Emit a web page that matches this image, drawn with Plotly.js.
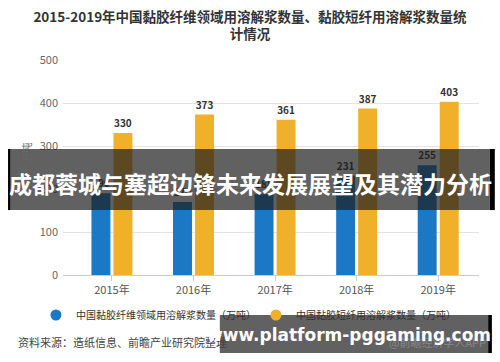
<!DOCTYPE html>
<html>
<head>
<meta charset="utf-8">
<script src="https://cdn.plot.ly/plotly-3.0.1.min.js"></script>
<style>html,body{margin:0;padding:0;background:#fff;}#chart{width:500px;height:362px;}</style>
</head>
<body>
<div id="chart"></div>
<script>
const years = ['2015年', '2016年', '2017年', '2018年', '2019年'];
const viscoseFiberPulp = [190, 170, 188, 231, 255];
const viscoseStapleFiberPulp = [330, 373, 361, 387, 403];
const seriesNames = ['中国黏胶纤维领域用溶解浆数量（万吨）', '中国黏胶短纤用溶解浆数量（万吨）'];
const yTicks = [0, 100, 200, 300, 400, 500];

const blue = '#1a78c4';
const gold = '#f0b02a';
const cjk = '"Noto Sans CJK SC", "Noto Sans", sans-serif';

const barCommon = {
  type: 'bar',
  showlegend: false,
  textposition: 'outside',
  texttemplate: '%{y}',
  cliponaxis: false,
  textfont: {size: 10, color: '#333', family: cjk, weight: 'bold'}
};

const data = [
  Object.assign({}, barCommon, {x: years, y: viscoseFiberPulp, name: seriesNames[0], marker: {color: blue}}),
  Object.assign({}, barCommon, {x: years, y: viscoseStapleFiberPulp, name: seriesNames[1], marker: {color: gold}}),
  {type: 'scatter', mode: 'markers', x: [null], y: [null], name: seriesNames[0], marker: {color: blue, size: 11, symbol: 'circle'}},
  {type: 'scatter', mode: 'markers', x: [null], y: [null], name: seriesNames[1], marker: {color: gold, size: 11, symbol: 'circle'}}
];

const layout = {
  width: 500, height: 362,
  margin: {l: 63, r: 21, t: 60, b: 87},
  paper_bgcolor: '#fff', plot_bgcolor: '#fff',
  font: {family: cjk, color: '#555'},
  title: {
    text: '2015-2019年中国黏胶纤维领域用溶解浆数量、黏胶短纤用溶解浆数量统<br>计情况',
    font: {size: 13.5, color: '#333', family: cjk, weight: 'bold'},
    x: 0.5, xref: 'container', xanchor: 'center', yref: 'container', y: 0.94, yanchor: 'top'
  },
  barmode: 'group',
  bargap: 0.46,
  bargroupgap: 0.14,
  xaxis: {
    type: 'category',
    range: [-0.6, 4.5],
    showline: true, linecolor: '#cccccc', linewidth: 1,
    ticks: 'outside', ticklen: 5, tickcolor: '#cccccc',
    tickfont: {size: 11, color: '#555', family: cjk},
    showgrid: false, zeroline: false, fixedrange: true
  },
  yaxis: {
    range: [0, 500],
    tickvals: yTicks,
    ticktext: yTicks.map(String),
    showgrid: true, gridcolor: '#e3e3e3', gridwidth: 1,
    zeroline: false, showline: false,
    ticks: '', ticklabelstandoff: 4,
    tickfont: {size: 11, color: '#666', family: cjk},
    title: {text: '单位：万吨', font: {size: 10, color: '#666', family: cjk}, standoff: 6},
    fixedrange: true
  },
  legend: {
    orientation: 'h',
    x: -0.065, xanchor: 'left',
    y: -0.186, yanchor: 'middle',
    font: {size: 10, color: '#333', family: cjk},
    itemwidth: 30,
    entrywidth: 175, entrywidthmode: 'pixels',
    bgcolor: 'rgba(0,0,0,0)'
  },
  shapes: [
    {type: 'rect', xref: 'paper', yref: 'paper', x0: -0.132, x1: 1.026, y0: 0.302, y1: 0.586, fillcolor: 'rgba(30,30,30,0.7)', line: {width: 0}, layer: 'above'},
    {type: 'rect', xref: 'paper', yref: 'paper', x0: -0.132, x1: -0.127, y0: 0.302, y1: 0.586, fillcolor: '#000', line: {width: 0}, layer: 'above'},
    {type: 'rect', xref: 'paper', yref: 'paper', x0: 1.026, x1: 1.038, y0: 0.302, y1: 0.586, fillcolor: '#000', line: {width: 0}, layer: 'above'},
    {type: 'rect', xref: 'paper', yref: 'paper', x0: 0.377, x1: 1.022, y0: -0.363, y1: -0.186, fillcolor: 'rgba(30,30,30,0.7)', line: {width: 0}, layer: 'above'},
    {type: 'rect', xref: 'paper', yref: 'paper', x0: 1.022, x1: 1.031, y0: -0.363, y1: -0.186, fillcolor: '#000', line: {width: 0}, layer: 'above'}
  ],
  annotations: [
    {text: '资料来源：造纸信息、前瞻产业研究院整理', xref: 'paper', yref: 'paper', x: -0.113, y: -0.312, xanchor: 'left', yanchor: 'middle', showarrow: false, font: {size: 11, color: '#444', family: cjk}},
    {text: '@前瞻经济学人APP', xref: 'paper', yref: 'paper', x: 1.022, y: -0.312, xanchor: 'right', yanchor: 'middle', showarrow: false, font: {size: 11, color: '#888', family: cjk}},
    {text: '成都蓉城与塞超边锋未来发展展望及其潜力分析', xref: 'paper', yref: 'paper', x: 0.45, y: 0.43, xanchor: 'center', yanchor: 'middle', showarrow: false, font: {size: 23, color: '#fff', family: cjk, weight: 'bold'}},
    {text: 'www.platform-pggaming.com', xref: 'paper', yref: 'paper', x: 0.687, y: -0.28, xanchor: 'center', yanchor: 'middle', showarrow: false, font: {size: 17, color: '#fff', family: '"DejaVu Sans", sans-serif', weight: 'bold'}}
  ]
};

Plotly.newPlot('chart', data, layout, {displayModeBar: false, staticPlot: true});
</script>
</body>
</html>
